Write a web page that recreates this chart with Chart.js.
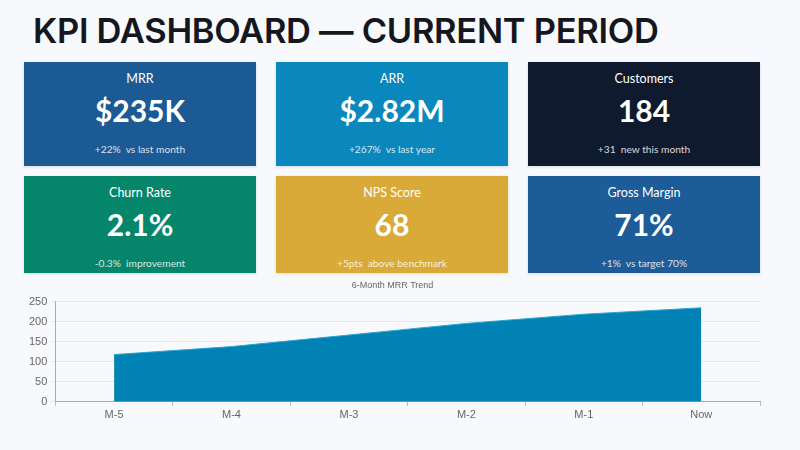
<!DOCTYPE html>
<html>
<head>
<meta charset="utf-8">
<script src="https://cdn.jsdelivr.net/npm/chart.js@4.4.1/dist/chart.umd.min.js"></script>
<style>
  html, body { margin: 0; padding: 0; }
  body { width: 800px; height: 450px; background: #f8f9fc; position: relative; overflow: hidden; }
  h1 {
    position: absolute; left: 33px; top: 10px; margin: 0;
    font-family: Inter, sans-serif; font-weight: 600; font-size: 34.5px;
    color: #15171f; letter-spacing: -0.3px;
  }
  .card {
    position: absolute; width: 232px; color: #fff; text-align: center;
    font-family: Lato, "Open Sans", sans-serif;
    box-shadow: 0 1px 3px rgba(0,0,0,0.12);
  }
  .card .lbl { position: absolute; left: 0; right: 0; font-size: 12.5px; }
  .card .val { position: absolute; left: 0; right: 0; font-size: 30px; font-weight: 700; }
  .card .sub { position: absolute; left: 0; right: 0; font-size: 10.2px; opacity: 0.82; white-space: pre; }
  .row1 { top: 62px; height: 104px; }
  .row1 .lbl { top: 9px; } .row1 .val { top: 30px; } .row1 .sub { top: 81px; }
  .row2 { top: 176px; height: 97px; }
  .row2 .lbl { top: 9px; } .row2 .val { top: 30px; } .row2 .sub { top: 81px; }
  #wrap { position: absolute; left: 0; top: 277px; width: 800px; height: 173px; }
</style>
</head>
<body>
<h1>KPI DASHBOARD — CURRENT PERIOD</h1>
<div id="cards"></div>
<div id="wrap"><canvas id="chart-mrr"></canvas></div>
<script>
// Tarjetas KPI
const kpiLabels = ['MRR', 'ARR', 'Customers', 'Churn Rate', 'NPS Score', 'Gross Margin'];
const kpiValues = ['$235K', '$2.82M', '184', '2.1%', '68', '71%'];
const kpiNotes = ['+22%  vs last month', '+267%  vs last year', '+31  new this month',
                  '-0.3%  improvement', '+5pts  above benchmark', '+1%  vs target 70%'];
const kpiColors = ['#1c5a96', '#0a87bc', '#0f1a2e', '#05856a', '#d9aa38', '#1c5c98'];

// Datos de la gráfica
const months = ['M-5', 'M-4', 'M-3', 'M-2', 'M-1', 'Now'];
const mrrValues = [118, 138, 167, 196, 219, 235];

const cardsEl = document.getElementById('cards');
const colLeft = [24, 276, 528];
kpiLabels.forEach((label, i) => {
    const card = document.createElement('div');
    card.className = 'card ' + (i < 3 ? 'row1' : 'row2');
    card.style.left = colLeft[i % 3] + 'px';
    card.style.background = kpiColors[i];
    card.innerHTML = '<div class="lbl">' + label + '</div>' +
        '<div class="val">' + kpiValues[i] + '</div>' +
        '<div class="sub">' + kpiNotes[i] + '</div>';
    cardsEl.appendChild(card);
});

const tickFont = { size: 11, family: "'Liberation Sans', Arial, sans-serif" };

new Chart(document.getElementById('chart-mrr'), {
    type: 'line',
    data: {
        labels: months,
        datasets: [{
            label: 'MRR',
            data: mrrValues,
            fill: 'origin',
            backgroundColor: '#0082b4',
            borderColor: '#29a6d3',
            borderWidth: 1,
            pointRadius: 0,
            tension: 0
        }]
    },
    options: {
        responsive: true,
        maintainAspectRatio: false,
        animation: false,
        layout: { padding: { left: 25, right: 40, top: 0, bottom: 25 } },
        plugins: {
            legend: { display: false },
            tooltip: { enabled: false },
            title: {
                display: true,
                text: '6-Month MRR Trend',
                color: '#666',
                font: { size: 9, weight: 'normal', family: "'Liberation Sans', Arial, sans-serif" },
                padding: { top: 3, bottom: 11 }
            }
        },
        scales: {
            x: {
                offset: true,
                grid: { offset: true, drawOnChartArea: false, tickLength: 4, color: '#bbb' },
                border: { color: '#aaa' },
                ticks: { color: '#666', font: tickFont, padding: 3 }
            },
            y: {
                min: 0,
                max: 250,
                ticks: { stepSize: 50, color: '#666', font: tickFont, padding: 4 },
                grid: { color: '#e6e7ee', tickLength: 4 },
                border: { color: '#aaa' }
            }
        }
    }
});
</script>
</body>
</html>
